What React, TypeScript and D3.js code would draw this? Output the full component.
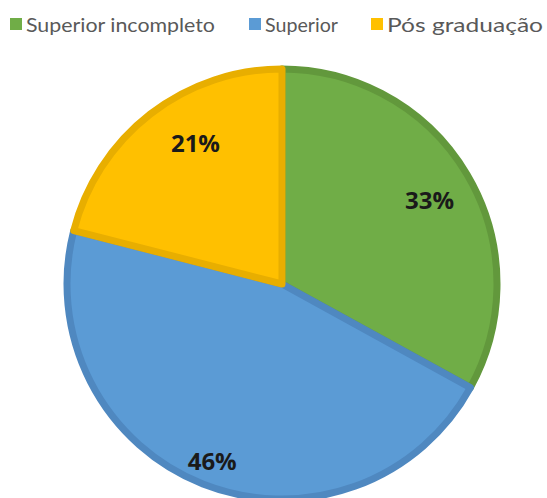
import React from "react";
import * as d3 from "d3";

const categories = ["Superior incompleto", "Superior", "Pós graduação"];
const values = [33, 46, 21];
const labels = ["33%", "46%", "21%"];

const fills = ["#70AD47", "#5B9BD5", "#FFC000"];
const strokes = ["#62983C", "#4F88C0", "#E8AE00"];

export default function App() {
  const W = 547;
  const H = 498;
  const cx = 282;
  const cy = 284;
  const r = 218;

  const pie = d3
    .pie<number>()
    .sort(null)
    .value((d) => d)
    .startAngle(0)
    .endAngle(2 * Math.PI);
  const arcs = pie(values);
  const arcGen = d3.arc<d3.PieArcDatum<number>>().innerRadius(0).outerRadius(r - 3);
  const labelFactor = [0.78, 0.87, 0.76];
  const labelShift = [0.015, 0, 0.11];

  const legendX = [10, 249, 371];
  const legendTextWidth = [189, 73, 156];

  return (
    <svg
      width={W}
      height={H}
      style={{ position: "absolute", left: 0, top: 0, background: "#fff" }}
    >
      <g transform={`translate(${cx},${cy})`}>
        {arcs.map((a, i) => (
          <path
            key={i}
            d={arcGen(a) || ""}
            fill={fills[i]}
            stroke={strokes[i]}
            strokeWidth={7}
            strokeLinejoin="round"
          />
        ))}
        {arcs.map((a, i) => {
          const mid = (a.startAngle + a.endAngle) / 2 + labelShift[i];
          const lr = r * labelFactor[i];
          const x = Math.sin(mid) * lr;
          const y = -Math.cos(mid) * lr;
          return (
            <text
              key={i}
              x={x}
              y={y}
              textAnchor="middle"
              dominantBaseline="central"
              fontFamily="'Open Sans', 'DejaVu Sans', sans-serif"
              fontWeight={700}
              fontSize={24}
              fill="#1a1a1a"
            >
              {labels[i]}
            </text>
          );
        })}
      </g>
      {categories.map((c, i) => (
        <g key={c}>
          <rect x={legendX[i]} y={18} width={12} height={12} fill={fills[i]} />
          <text
            x={legendX[i] + 16}
            y={24}
            dominantBaseline="central"
            fontFamily="Lato, 'Open Sans', sans-serif"
            fontSize={20}
            fill="#595959"
            textLength={legendTextWidth[i]}
            lengthAdjust="spacingAndGlyphs"
          >
            {c}
          </text>
        </g>
      ))}
    </svg>
  );
}
